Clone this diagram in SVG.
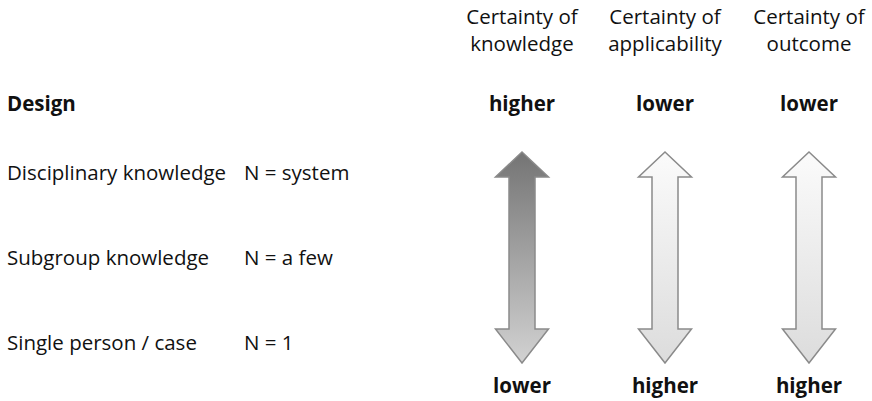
<svg xmlns="http://www.w3.org/2000/svg" width="872" height="401" viewBox="0 0 872 401">
  <style>
    text { font-family: "Open Sans", "Noto Sans", "Liberation Sans", sans-serif; font-size: 20.5px; fill: #111; }
    .b { font-weight: bold; }
    .c { text-anchor: middle; }
    .arrow { stroke: #8a8a8a; stroke-width: 1.5; stroke-linejoin: miter; }
  </style>
  <defs>
    <linearGradient id="gDark" x1="0" y1="0" x2="0" y2="1">
      <stop offset="0" stop-color="#747474"/>
      <stop offset="1" stop-color="#d2d2d2"/>
    </linearGradient>
    <linearGradient id="gLight" x1="0" y1="0" x2="0" y2="1">
      <stop offset="0" stop-color="#fbfbfb"/>
      <stop offset="1" stop-color="#dcdcdc"/>
    </linearGradient>
    <!-- double-headed arrow centred on x=0 -->
    <path id="dbl" d="M0,152 L26.5,177 L13,177 L13,329 L26.5,329 L0,363 L-26.5,329 L-13,329 L-13,177 L-26.5,177 Z"/>
  </defs>

  <g id="design-column">
    <text class="b" x="7" y="111">Design</text>
    <text x="7" y="180">Disciplinary knowledge</text>
    <text x="244" y="180">N = system</text>
    <text x="7" y="265">Subgroup knowledge</text>
    <text x="244" y="265">N = a few</text>
    <text x="7" y="350">Single person / case</text>
    <text x="244" y="350">N = 1</text>
  </g>

  <g id="knowledge">
    <text class="c" x="522" y="24">Certainty of</text>
    <text class="c" x="522" y="51">knowledge</text>
    <text class="c b" x="522" y="111">higher</text>
    <use href="#dbl" x="522" class="arrow" fill="url(#gDark)"/>
    <text class="c b" x="522" y="393">lower</text>
  </g>

  <g id="applicability">
    <text class="c" x="665" y="24">Certainty of</text>
    <text class="c" x="665" y="51">applicability</text>
    <text class="c b" x="665" y="111">lower</text>
    <use href="#dbl" x="665" class="arrow" fill="url(#gLight)"/>
    <text class="c b" x="665" y="393">higher</text>
  </g>

  <g id="outcome">
    <text class="c" x="809" y="24">Certainty of</text>
    <text class="c" x="809" y="51">outcome</text>
    <text class="c b" x="809" y="111">lower</text>
    <use href="#dbl" x="809" class="arrow" fill="url(#gLight)"/>
    <text class="c b" x="809" y="393">higher</text>
  </g>
</svg>
